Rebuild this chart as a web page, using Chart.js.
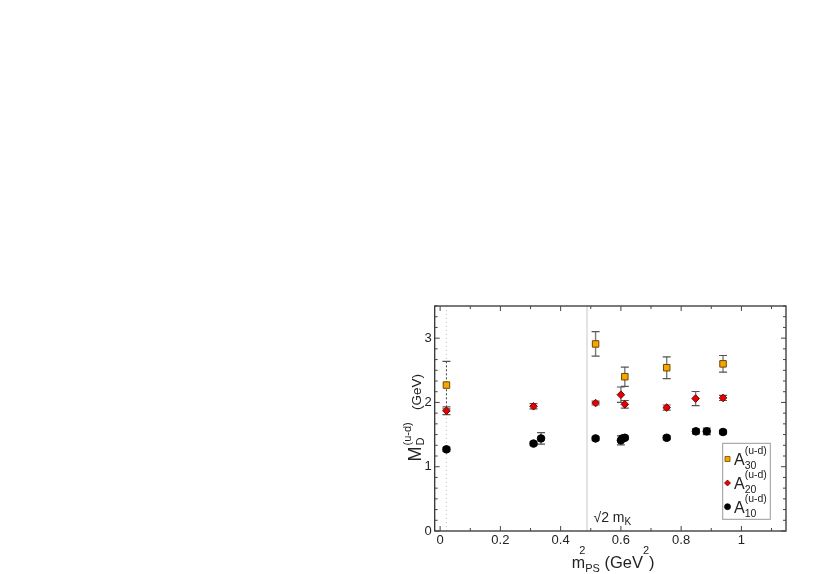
<!DOCTYPE html>
<html><head><meta charset="utf-8">
<script src="https://cdn.jsdelivr.net/npm/chart.js@4"></script>
<style>html,body{margin:0;padding:0;background:#fff}canvas{display:block}</style>
</head><body>
<canvas id="c" width="829" height="574"></canvas>
<script>
// ---- data ----
const xTicks = [0, 0.2, 0.4, 0.6, 0.8, 1];
const yTicks = [0, 1, 2, 3];

const a30X   = [0.021, 0.516, 0.613, 0.752, 0.939];
const a30Y   = [2.27, 2.91, 2.40, 2.54, 2.60];
const a30Err = [0.37, 0.19, 0.15, 0.17, 0.13];

const a20X   = [0.021, 0.310, 0.516, 0.600, 0.613, 0.752, 0.848, 0.939];
const a20Y   = [1.87, 1.94, 1.99, 2.12, 1.97, 1.92, 2.06, 2.07];
const a20Err = [0.06, 0.04, 0.03, 0.12, 0.06, 0.04, 0.11, 0.04];

const a10X   = [0.021, 0.310, 0.335, 0.516, 0.600, 0.605, 0.613, 0.752, 0.849, 0.885, 0.939];
const a10Y   = [1.27, 1.36, 1.44, 1.44, 1.41, 1.44, 1.45, 1.45, 1.55, 1.55, 1.54];
const a10Err = [0.03, 0.03, 0.09, 0.03, 0.07, 0.04, 0.03, 0.03, 0.04, 0.05, 0.03];

const kaonLineX = 0.4875;   // (sqrt(2) m_K)^2
const physPointX = 0.021;   // physical point

const FONT = '"Liberation Sans", Arial, Helvetica, sans-serif';
const errs = [a30Err, a20Err, a10Err];

function pts(xs, ys) { return xs.map((x, i) => ({x, y: ys[i]})); }

function txt(ctx, s, x, y, size) {
  ctx.font = size + 'px ' + FONT;
  ctx.fillText(s, x, y);
  return ctx.measureText(s).width;
}
function stack(ctx, x, y, sup, sub, size, supDy, subDy) {
  ctx.font = size + 'px ' + FONT;
  let w1 = 0, w2 = 0;
  if (sup) { ctx.fillText(sup, x, y + supDy); w1 = ctx.measureText(sup).width; }
  if (sub) { ctx.fillText(sub, x, y + subDy); w2 = ctx.measureText(sub).width; }
  return Math.max(w1, w2);
}

const decor = {
  id: 'decor',
  beforeDatasetsDraw(chart) {
    const {ctx, chartArea: ca, scales: {x: xs, y: ys}} = chart;
    ctx.save();
    const kx = xs.getPixelForValue(kaonLineX);
    ctx.strokeStyle = '#c8c8c8'; ctx.lineWidth = 1;
    ctx.beginPath(); ctx.moveTo(kx, ca.top); ctx.lineTo(kx, ca.bottom); ctx.stroke();
    const px = xs.getPixelForValue(physPointX);
    ctx.strokeStyle = '#c0c0c0'; ctx.setLineDash([1, 3]);
    ctx.beginPath(); ctx.moveTo(px, ca.top); ctx.lineTo(px, ca.bottom); ctx.stroke();
    ctx.setLineDash([]);
    chart.data.datasets.forEach((ds, di) => {
      const e = errs[di];
      ds.data.forEach((p, i) => {
        const x = xs.getPixelForValue(p.x);
        const yt = ys.getPixelForValue(p.y + e[i]);
        const yb = ys.getPixelForValue(p.y - e[i]);
        const dashed = (di === 0 && p.x === physPointX);
        ctx.strokeStyle = dashed ? '#444' : '#7a7a7a';
        ctx.lineWidth = dashed ? 1 : 1.4;
        ctx.setLineDash(dashed ? [2, 2] : []);
        ctx.beginPath(); ctx.moveTo(x, yt); ctx.lineTo(x, yb); ctx.stroke();
        ctx.setLineDash([]);
        ctx.strokeStyle = '#555'; ctx.lineWidth = 1.2;
        ctx.beginPath();
        ctx.moveTo(x - 4, yt); ctx.lineTo(x + 4, yt);
        ctx.moveTo(x - 4, yb); ctx.lineTo(x + 4, yb);
        ctx.stroke();
      });
    });
    ctx.restore();
  },
  afterDraw(chart) {
    const {ctx, chartArea: ca, scales: {x: xs, y: ys}} = chart;
    ctx.save();
    ctx.strokeStyle = '#333'; ctx.lineWidth = 1.3;
    ctx.strokeRect(ca.left, ca.top, ca.right - ca.left, ca.bottom - ca.top);
    ctx.lineWidth = 1; ctx.strokeStyle = '#444';
    ctx.beginPath();
    for (let k = 0; k <= 11; k++) {
      const v = k / 10;
      const x = xs.getPixelForValue(v);
      const L = (k % 2 === 0) ? 5 : 3;
      ctx.moveTo(x, ca.bottom); ctx.lineTo(x, ca.bottom - L);
      ctx.moveTo(x, ca.top); ctx.lineTo(x, ca.top + L);
    }
    for (let k = 0; k <= 21; k++) {
      const v = k / 6;
      const y = ys.getPixelForValue(v);
      const L = (k % 6 === 0) ? 5 : 3;
      ctx.moveTo(ca.left, y); ctx.lineTo(ca.left + L, y);
      ctx.moveTo(ca.right, y); ctx.lineTo(ca.right - L, y);
    }
    ctx.stroke();

    ctx.fillStyle = '#222'; ctx.textBaseline = 'alphabetic'; ctx.textAlign = 'left';
    const kx = xs.getPixelForValue(kaonLineX);
    let w = txt(ctx, '\u221A2 m', kx + 6.5, ca.bottom - 9.5, 14);
    txt(ctx, 'K', kx + 6.5 + w, ca.bottom - 6, 10);

    // x title
    const cx = (ca.left + ca.right) / 2;
    let x0 = cx - 38.5, yb = 568;
    x0 += txt(ctx, 'm', x0, yb, 16);
    stack(ctx, x0 - 6, yb, '2', null, 11, -14, 0);
    x0 += stack(ctx, x0, yb, null, 'PS', 11, 0, 4);
    x0 += txt(ctx, ' (GeV', x0, yb, 16.5);
    x0 += stack(ctx, x0, yb, '2', null, 11, -14, 0);
    txt(ctx, ')', x0, yb, 16.5);

    // y title (rotated)
    ctx.save();
    ctx.translate(420.7, (ca.top + ca.bottom) / 2 + 43);
    ctx.rotate(-Math.PI / 2);
    let t = 0;
    t += txt(ctx, 'M', t, 0, 18);
    stack(ctx, t + 1, 0, '(u-d)', 'D', 11, -10, 3);
    txt(ctx, '(GeV)', 51.5, 0, 13.5);
    ctx.restore();

    // legend
    const lx = 722.7, ly = 443.3;
    ctx.strokeStyle = '#999'; ctx.lineWidth = 1;
    ctx.strokeRect(lx, ly, 47.6, 76);
    const bases = [465, 489, 512.7];
    const subs = ['30', '20', '10'];
    bases.forEach((b, i) => {
      const mx = 727.5, my = b - 6;
      ctx.beginPath();
      if (i === 0) { ctx.fillStyle = '#f7a600'; ctx.strokeStyle = '#6b4a00'; ctx.rect(mx - 2.5, my - 2.5, 5, 5); }
      else if (i === 1) { ctx.fillStyle = '#e80000'; ctx.strokeStyle = '#700'; ctx.moveTo(mx, my - 3); ctx.lineTo(mx + 3, my); ctx.lineTo(mx, my + 3); ctx.lineTo(mx - 3, my); ctx.closePath(); }
      else { ctx.fillStyle = '#000'; ctx.strokeStyle = '#000'; ctx.arc(mx, my, 3, 0, Math.PI * 2); }
      ctx.fill(); ctx.lineWidth = 0.8; ctx.stroke();
      ctx.fillStyle = '#222';
      const aw = txt(ctx, 'A', 734, b, 16);
      stack(ctx, 734 + aw, b, '(u-d)', subs[i], 10.5, -11, 4);
    });
    ctx.restore();
  }
};

new Chart(document.getElementById('c'), {
  type: 'scatter',
  data: {
    datasets: [
      {label: 'A30', data: pts(a30X, a30Y), pointStyle: 'rect', pointRadius: 4.6, pointHoverRadius: 4.6,
       backgroundColor: '#f7a600', borderColor: '#6b4a00', borderWidth: 1},
      {label: 'A20', data: pts(a20X, a20Y), pointStyle: 'rectRot', pointRadius: 3.8, pointHoverRadius: 3.8,
       backgroundColor: '#e80000', borderColor: '#700', borderWidth: 1},
      {label: 'A10', data: pts(a10X, a10Y), pointStyle: 'circle', pointRadius: 3.8, pointHoverRadius: 3.8,
       backgroundColor: '#000', borderColor: '#000', borderWidth: 1}
    ]
  },
  options: {
    responsive: false, animation: false, devicePixelRatio: 1,
    layout: {padding: {left: 0, top: 306, right: 43, bottom: 0}},
    plugins: {legend: {display: false}, tooltip: {enabled: false}},
    scales: {
      x: {
        type: 'linear', min: -0.018, max: 1.148,
        grid: {display: false, drawTicks: false}, border: {display: false},
        afterBuildTicks: s => { s.ticks = xTicks.map(v => ({value: v})); },
        afterFit: s => { s.height = 43; },
        ticks: {padding: 2, color: '#222', font: {size: 13, family: FONT},
                callback: v => String(+v.toFixed(1))}
      },
      y: {
        type: 'linear', min: 0, max: 3.5,
        grid: {display: false, drawTicks: false}, border: {display: false},
        afterBuildTicks: s => { s.ticks = yTicks.map(v => ({value: v})); },
        afterFit: s => { s.width = 434.7; },
        ticks: {padding: 3, color: '#222', font: {size: 13, family: FONT},
                callback: v => String(v)}
      }
    }
  },
  plugins: [decor]
});
</script>
</body></html>
